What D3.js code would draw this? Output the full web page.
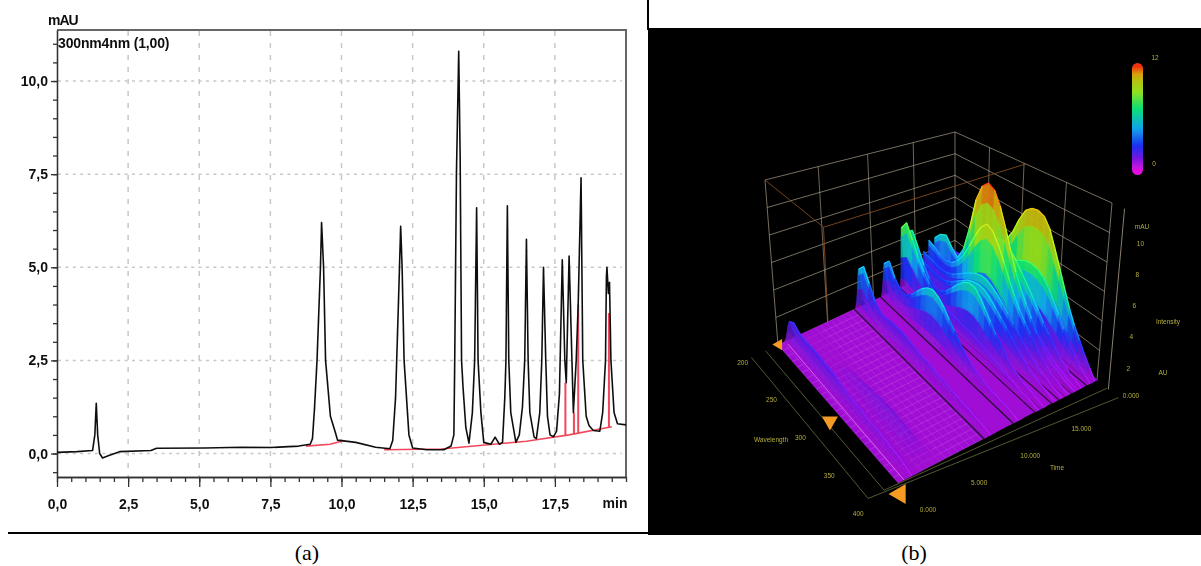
<!DOCTYPE html>
<html>
<head>
<meta charset="utf-8">
<script src="https://cdn.jsdelivr.net/npm/d3@7"></script>
<style>
  html, body { margin: 0; padding: 0; background: #fff; }
  svg { display: block; }
</style>
</head>
<body>
<script>
// (a) chromatogram
var chromTime = [0, 0.7, 1.25, 1.33, 1.38, 1.43, 1.5, 1.6, 1.8, 2.2, 3.3, 3.5, 5.2, 6.5, 7.5, 8.5, 8.9,
  8.98, 9.05, 9.14, 9.26, 9.3, 9.37, 9.44, 9.61, 9.79, 9.86, 10.5, 11.2, 11.7,
  11.8, 11.9, 12.0, 12.08, 12.13, 12.2, 12.37, 12.5, 13.0, 13.6, 13.85,
  13.95, 13.98, 14.04, 14.12, 14.17, 14.22, 14.27, 14.37, 14.48,
  14.6, 14.68, 14.75, 14.8, 14.9, 15.0, 15.25, 15.4, 15.55,
  15.66, 15.74, 15.78, 15.83, 15.88, 15.95, 16.13,
  16.25, 16.36, 16.44, 16.5, 16.56, 16.62, 16.77, 16.85,
  16.97, 17.04, 17.1, 17.18, 17.24, 17.33, 17.45,
  17.56, 17.66, 17.76, 17.85, 17.9, 18.0, 18.1, 18.15,
  18.25, 18.32, 18.42, 18.48, 18.6, 18.7, 18.85, 19.08,
  19.18, 19.28, 19.31, 19.33, 19.38, 19.42, 19.47, 19.58, 19.7, 20];
var chromValue = [0.03, 0.05, 0.08, 0.5, 1.35, 0.5, 0.0, -0.12, -0.06, 0.05, 0.08, 0.14, 0.15, 0.17, 0.16, 0.2, 0.25,
  0.4, 1.2, 2.5, 5.0, 6.2, 5.0, 2.5, 1.0, 0.55, 0.36, 0.3, 0.17, 0.13,
  0.35, 1.5, 4.0, 6.1, 5.0, 2.5, 0.5, 0.15, 0.1, 0.1, 0.2,
  0.5, 2.5, 7.5, 10.8, 8.0, 2.5, 1.8, 0.7, 0.28,
  1.1, 2.5, 6.6, 2.5, 1.1, 0.3, 0.25, 0.44, 0.25,
  0.3, 1.5, 2.5, 6.65, 2.5, 1.1, 0.3,
  0.5, 1.25, 2.5, 5.75, 2.5, 1.1, 0.44, 0.4,
  1.1, 2.5, 5.0, 2.5, 1.0, 0.5, 0.45,
  0.6, 1.6, 5.2, 2.5, 1.9, 5.3, 2.5, 1.1,
  2.5, 4.0, 7.4, 2.5, 1.0, 0.75, 0.62, 0.6,
  1.1, 2.5, 4.7, 5.0, 4.3, 4.6, 2.5, 1.1, 0.8, 0.77];
var baseTime1 = [8.75, 9.6, 10.1];
var baseValue1 = [0.2, 0.25, 0.35];
var baseTime2 = [11.5, 13.5, 16.5, 18.0, 19.5];
var baseValue2 = [0.1, 0.12, 0.33, 0.5, 0.72];
var dropTime = [17.87, 18.17, 18.32, 19.4];
var dropBottom = [0.49, 0.52, 0.55, 0.7];
var dropTop = [1.9, 1.1, 4.0, 3.77];
var yTicks = [0, 2.5, 5, 7.5, 10];
var xTicks = [0, 2.5, 5, 7.5, 10, 12.5, 15, 17.5];

// (b) 3D plot: one intensity list per ridge, over the wavelengths below
var wavelengths = [200, 208, 216, 224, 232, 240, 248, 256, 264, 272, 280, 288, 296, 304, 312, 320, 328, 336, 344, 352, 360, 368, 376, 384, 392, 400];
var ridgeTimes = [19.75, 19.3, 18.4, 18.0, 17.75, 17.1, 16.5, 15.8, 14.7, 14.1, 12.1, 9.3, 3.0, 1.4];
var ridgeWidths = [1, 1, 1, 1, 1, 1, 1, 1, 1, 1, 1.5, 2, 5, 2.5];
var s197 = [1.2, 1.3, 1.5, 1.8, 2.3, 2.9, 3.5, 4.1, 4.7, 5.4, 6.3, 7.6, 8.6, 9.0, 9.1, 8.9, 8.2, 7.0, 5.8, 4.6, 3.5, 2.6, 1.9, 1.2, 0.6, 0];
var s193 = [1.2, 1.3, 1.4, 1.6, 1.9, 2.3, 2.7, 3.1, 3.5, 3.9, 4.2, 4.5, 4.8, 5.1, 5.2, 5.1, 4.8, 4.3, 3.6, 2.9, 2.2, 1.6, 1.1, 0.6, 0.3, 0];
var s184 = [1.4, 1.5, 1.7, 2.1, 2.6, 3.3, 4.0, 4.8, 5.4, 5.9, 6.2, 6.1, 5.8, 5.3, 4.7, 4.1, 3.5, 2.9, 2.3, 1.8, 1.3, 0.9, 0.6, 0.3, 0.2, 0];
var s180 = [1.6, 1.7, 1.8, 2.0, 2.4, 2.9, 3.5, 4.0, 4.4, 4.6, 4.6, 4.4, 4.1, 3.7, 3.3, 2.9, 2.4, 2.0, 1.5, 1.1, 0.8, 0.5, 0.4, 0.2, 0.1, 0];
var s177 = [3.0, 3.7, 4.0, 3.3, 2.8, 3.9, 6.0, 8.6, 10.0, 10.5, 10.2, 9.2, 7.8, 6.3, 5.0, 4.0, 3.2, 2.5, 1.8, 1.2, 0.8, 0.5, 0.4, 0.2, 0.1, 0];
var s171 = [3.0, 2.8, 2.5, 2.4, 2.6, 3.1, 3.9, 5.0, 6.2, 7.2, 7.7, 7.4, 6.6, 5.6, 4.6, 3.7, 3.0, 2.4, 1.9, 1.4, 1.0, 0.7, 0.4, 0.3, 0.1, 0];
var s165 = [2.2, 2.1, 2.0, 1.9, 2.0, 2.2, 2.6, 3.0, 3.4, 3.7, 3.9, 3.9, 3.7, 3.4, 3.0, 2.6, 2.2, 1.8, 1.4, 1.0, 0.8, 0.5, 0.4, 0.2, 0.1, 0];
var s158 = [2.0, 2.0, 1.9, 1.8, 1.8, 1.9, 2.2, 2.6, 3.0, 3.4, 3.6, 3.7, 3.6, 3.3, 2.9, 2.5, 2.1, 1.7, 1.3, 1.0, 0.7, 0.5, 0.3, 0.2, 0.1, 0];
var s147 = [4.4, 5.0, 3.9, 2.8, 2.0, 1.7, 1.8, 2.2, 2.8, 3.4, 3.9, 4.2, 4.2, 3.8, 3.2, 2.6, 2.0, 1.6, 1.1, 0.8, 0.6, 0.4, 0.3, 0.2, 0.1, 0];
var s141 = [5.0, 5.8, 4.7, 3.6, 2.8, 2.2, 1.8, 1.5, 1.4, 1.3, 1.3, 1.2, 1.2, 1.1, 1.0, 0.9, 0.8, 0.7, 0.6, 0.5, 0.4, 0.3, 0.2, 0.2, 0.1, 0];
var s121 = [2.6, 3.2, 2.2, 1.6, 1.6, 2.0, 2.6, 3.2, 3.6, 3.8, 3.6, 3.2, 2.6, 2.1, 1.6, 1.2, 0.9, 0.7, 0.5, 0.4, 0.3, 0.3, 0.2, 0.2, 0.1, 0];
var s093 = [3.0, 3.6, 2.6, 1.6, 1.1, 1.1, 1.2, 1.2, 1.2, 1.1, 1.0, 0.9, 0.8, 0.8, 0.7, 0.6, 0.6, 0.5, 0.4, 0.4, 0.3, 0.3, 0.2, 0.2, 0.1, 0];
var s030 = [0, 0, 0, 0, 0, 0, 0.1, 0.2, 0.4, 0.6, 0.7, 0.8, 0.9, 1.0, 1.0, 1.1, 1.1, 1.1, 1.1, 1.0, 1.0, 0.9, 0.7, 0.3, 0, 0];
var s014 = [1.3, 1.6, 1.3, 1.2, 1.2, 1.2, 1.2, 1.1, 1.1, 1.0, 0.9, 0.8, 0.7, 0.6, 0.6, 0.6, 0.5, 0.5, 0.5, 0.4, 0.4, 0.3, 0.3, 0.2, 0.1, 0];
var ridgeSpectra = [s197, s193, s184, s180, s177, s171, s165, s158, s147, s141, s121, s093, s030, s014];
// slices across one ridge, back to front: time offset and share of the ridge height
var sliceOffset = [0.28, 0.2, 0.12, 0.06, 0, -0.06, -0.12, -0.2, -0.28];
var sliceShare = [0, 0.15, 0.5, 0.85, 1, 0.85, 0.5, 0.15, 0];
var colorValues = [0, 0.8, 1.8, 3, 4.6, 6, 8, 9.2, 10.4];
var colorNames = ["#a010d0", "#6a18e0", "#1a30f0", "#10a8e8", "#10e070", "#90e020", "#b8c010", "#d8a010", "#d82810"];
var wallLevels = [2, 4, 6, 8, 10, 12];
var wallTimes = [5.6, 10.8, 15.6];
var wallWaves = [244, 288, 342];
var waveTicks = [200, 250, 300, 350, 400];
var timeTicks = [0, 5, 10, 15];
var intensityTicks = [2, 4, 6, 8, 10];
var markerWaves = [200, 285, 400];

var svg = d3.select("body").append("svg")
    .attr("width", 1201)
    .attr("height", 566);

var defs = svg.append("defs");
defs.append("filter").attr("id", "soft")
    .attr("x", "-5%").attr("y", "-5%").attr("width", "110%").attr("height", "110%")
  .append("feGaussianBlur").attr("stdDeviation", 0.7);
defs.append("filter").attr("id", "soft3d")
    .attr("x", "-5%").attr("y", "-5%").attr("width", "110%").attr("height", "110%")
  .append("feGaussianBlur").attr("stdDeviation", 0.7);

svg.append("rect").attr("width", 1201).attr("height", 566).attr("fill", "#fff");

// ---------- panel (a) ----------
var xScale = d3.scaleLinear().domain([0, 20]).range([57, 626]);
var yScale = d3.scaleLinear().domain([-0.63, 11.37]).range([477, 30]);
var comma = function(d) { return d3.format(".1f")(d).replace(".", ","); };

var panelA = svg.append("g").attr("filter", "url(#soft)");

// dashed grid
panelA.selectAll(".vgrid").data(xTicks.slice(1)).enter().append("line")
    .attr("x1", function(d) { return xScale(d); })
    .attr("x2", function(d) { return xScale(d); })
    .attr("y1", 31).attr("y2", 477)
    .attr("stroke", "#c8c8c8").attr("stroke-width", 1.5).attr("stroke-dasharray", "5 7");
panelA.selectAll(".hgrid").data(yTicks).enter().append("line")
    .attr("x1", 58).attr("x2", 622)
    .attr("y1", function(d) { return yScale(d); })
    .attr("y2", function(d) { return yScale(d); })
    .attr("stroke", "#c8c8c8").attr("stroke-width", 1.5).attr("stroke-dasharray", "3 4.4");

// frame
panelA.append("path")
    .attr("d", "M57,30H626V477")
    .attr("fill", "none").attr("stroke", "#666").attr("stroke-width", 2);

// axes, minor ticks every 0,5
var xAxis = d3.axisBottom(xScale).tickValues(xTicks).tickFormat(comma).tickSize(10).tickSizeOuter(0);
var xMinor = d3.axisBottom(xScale).tickValues(d3.range(0, 20.01, 0.5)).tickFormat("").tickSize(5).tickSizeOuter(0);
var yAxis = d3.axisLeft(yScale).tickValues(yTicks).tickFormat(comma).tickSize(6).tickSizeOuter(0);
var yMinor = d3.axisLeft(yScale).tickValues(d3.range(-0.5, 11.01, 0.5)).tickFormat("").tickSize(4).tickSizeOuter(0);

var axisFont = "'Liberation Sans', Arial, sans-serif";
panelA.append("g").attr("transform", "translate(0,477)").call(xMinor);
panelA.append("g").attr("transform", "translate(0,477)").call(xAxis)
  .selectAll("text").attr("dy", "1.35em");
panelA.append("g").attr("transform", "translate(57,0)").call(yMinor);
panelA.append("g").attr("transform", "translate(57,0)").call(yAxis);
panelA.selectAll(".tick text")
    .attr("font-family", axisFont).attr("font-size", 14).attr("font-weight", "bold").attr("fill", "#111");
panelA.selectAll(".domain, .tick line").attr("stroke", "#333").attr("stroke-width", 1.3);

panelA.append("text").attr("x", 615).attr("y", 508).attr("text-anchor", "middle")
    .attr("font-family", axisFont).attr("font-size", 14).attr("font-weight", "bold").attr("fill", "#111")
    .text("min");
panelA.append("text").attr("x", 48).attr("y", 25)
    .attr("font-family", axisFont).attr("font-size", 14).attr("font-weight", "bold").attr("fill", "#111")
    .style("letter-spacing", "-1px").text("mAU");
panelA.append("text").attr("x", 58).attr("y", 48)
    .attr("font-family", axisFont).attr("font-size", 14).attr("font-weight", "bold").attr("fill", "#111")
    .style("letter-spacing", "-0.15px").text("300nm4nm (1,00)");

// integration baselines and drop lines
var line = d3.line()
    .x(function(d) { return xScale(d[0]); })
    .y(function(d) { return yScale(d[1]); });
panelA.append("path").datum(d3.zip(baseTime1, baseValue1)).attr("d", line)
    .attr("fill", "none").attr("stroke", "#f0475a").attr("stroke-width", 1.6);
panelA.append("path").datum(d3.zip(baseTime2, baseValue2)).attr("d", line)
    .attr("fill", "none").attr("stroke", "#f0475a").attr("stroke-width", 1.6);
panelA.selectAll(".drop").data(dropTime).enter().append("line")
    .attr("x1", function(d) { return xScale(d); })
    .attr("x2", function(d) { return xScale(d); })
    .attr("y1", function(d, i) { return yScale(dropBottom[i]); })
    .attr("y2", function(d, i) { return yScale(dropTop[i]); })
    .attr("stroke", "#f0475a").attr("stroke-width", 2);

// the trace
panelA.append("path").datum(d3.zip(chromTime, chromValue)).attr("d", line)
    .attr("fill", "none").attr("stroke", "#111").attr("stroke-width", 1.6).attr("stroke-linejoin", "round");

// rule under panel (a), and the stub above panel (b)
svg.append("line").attr("x1", 8).attr("x2", 648).attr("y1", 533).attr("y2", 533)
    .attr("stroke", "#000").attr("stroke-width", 2);
svg.append("line").attr("x1", 648).attr("x2", 648).attr("y1", 0).attr("y2", 30)
    .attr("stroke", "#000").attr("stroke-width", 2);

// ---------- panel (b) ----------
svg.append("rect").attr("x", 648).attr("y", 28).attr("width", 553).attr("height", 507).attr("fill", "#000");

var tScale = d3.scaleLinear().domain([0, 20]).range([0, 1]);
var wScale = d3.scaleLinear().domain([200, 400]).range([0, 1]);
var iScale = d3.scaleLinear().domain([0, 12]).range([0, 1]);
var color = d3.scaleLinear().domain(colorValues).range(colorNames).clamp(true);

// box corners on screen, the box is squeezed by perspective so no plain affine map
var floorX = d3.scaleLinear().range([778, 898]), floorY = d3.scaleLinear().range([345, 483]);
var farFloorX = d3.scaleLinear().range([955, 1097]), farFloorY = d3.scaleLinear().range([262, 380]);
var topX = d3.scaleLinear().range([765, 895]), topY = d3.scaleLinear().range([180, 285]);
var farTopX = d3.scaleLinear().range([955, 1112]), farTopY = d3.scaleLinear().range([132, 203]);

function project(time, wave, intensity) {
    var u = tScale(time), v = wScale(wave), h = iScale(intensity);
    var fx = floorX(v) + u * (farFloorX(v) - floorX(v));
    var fy = floorY(v) + u * (farFloorY(v) - floorY(v));
    var tx = topX(v) + u * (farTopX(v) - topX(v));
    var ty = topY(v) + u * (farTopY(v) - topY(v));
    return [fx + h * (tx - fx), fy + h * (ty - fy)];
}

var panelB = svg.append("g").attr("filter", "url(#soft3d)");
var path3d = d3.line();

function wire(parent, pts, stroke, width, opacity) {
    parent.append("path").attr("d", path3d(pts))
        .attr("fill", "none").attr("stroke", stroke)
        .attr("stroke-width", width).attr("stroke-opacity", opacity);
}

// back walls
var wallColor = "#b5a990";
wallLevels.forEach(function(level) {
    wire(panelB, [project(0, 200, level), project(20, 200, level), project(20, 400, level)], wallColor, 1, 0.65);
});
wire(panelB, [project(0, 200, 0), project(0, 200, 12)], wallColor, 1, 0.65);
wire(panelB, [project(20, 200, 0), project(20, 200, 12)], wallColor, 1, 0.65);
wire(panelB, [project(20, 400, 0), project(20, 400, 12)], wallColor, 1, 0.65);
wallTimes.forEach(function(t) {
    wire(panelB, [project(t, 200, 0), project(t, 200, 12)], wallColor, 1, 0.6);
});
wallWaves.forEach(function(w) {
    wire(panelB, [project(20, w, 0), project(20, w, 12)], wallColor, 1, 0.6);
});
// orange selection plane
wire(panelB, [project(0, 200, 12), project(0, 290, 12), project(20, 290, 12)], "#8a4f22", 1, 0.85);
wire(panelB, [project(0, 290, 12), project(0, 290, 0)], "#8a4f22", 1, 0.85);

// floor
var floorCorners = [project(0, 200, 0), project(20, 200, 0), project(20, 400, 0), project(0, 400, 0)];
panelB.append("path").attr("d", path3d(floorCorners) + "Z").attr("fill", "#a010d4");
wavelengths.forEach(function(w) {
    wire(panelB, [project(0, w, 0), project(9, w, 0)], "#e080f0", 0.6, 0.4);
});
d3.range(0, 9.01, 0.6).forEach(function(t) {
    wire(panelB, [project(t, 200, 0), project(t, 400, 0)], "#e080f0", 0.5, 0.3);
});

// ridges, far ones first
ridgeTimes.forEach(function(time, r) {
    var spectrum = ridgeSpectra[r];
    var spread = ridgeWidths[r];
    var ridge = panelB.append("g");
    // the dark gap on the floor beside the ridge
    if (time > 5) {
        wire(ridge, [project(time - 0.34 * spread, 200, 0), project(time - 0.34 * spread, 400, 0)], "#180520", 1.6, 0.8);
    }
    for (var s = 0; s < sliceOffset.length - 1; s++) {
        for (var k = 0; k < wavelengths.length - 1; k++) {
            var a0 = spectrum[k] * sliceShare[s], b0 = spectrum[k + 1] * sliceShare[s];
            var a1 = spectrum[k] * sliceShare[s + 1], b1 = spectrum[k + 1] * sliceShare[s + 1];
            var fill = color((a0 + b0 + a1 + b1) / 4);
            ridge.append("path")
                .attr("d", path3d([
                    project(time + sliceOffset[s] * spread, wavelengths[k], a0),
                    project(time + sliceOffset[s] * spread, wavelengths[k + 1], b0),
                    project(time + sliceOffset[s + 1] * spread, wavelengths[k + 1], b1),
                    project(time + sliceOffset[s + 1] * spread, wavelengths[k], a1)
                ]) + "Z")
                .attr("fill", fill).attr("fill-opacity", time == 3 ? 0.35 : 0.8)
                .attr("stroke", fill).attr("stroke-width", 0.4).attr("stroke-opacity", time == 3 ? 0.3 : 1);
        }
    }
    // bright crest
    if (time != 3) {
        for (var j = 0; j < wavelengths.length - 1; j++) {
            wire(ridge, [project(time, wavelengths[j], spectrum[j]), project(time, wavelengths[j + 1], spectrum[j + 1])],
                d3.color(color((spectrum[j] + spectrum[j + 1]) / 2)).brighter(0.5).formatHex(), 1.3, 0.95);
        }
    }
});
// the pale line along the first ridge
wire(panelB, [project(0.6, 208, 0.3), project(0.6, 400, 0)], "#e070f0", 1, 0.8);

// floor frames
var frameColor = "#5c6238";
wire(panelB, [project(-1.4, 200, 0), project(-1.4, 400, 0), project(20, 414, 0)], frameColor, 1, 0.9);
wire(panelB, [project(-3, 200, 0), project(-3, 400, 0), project(20, 430, 0)], frameColor, 1, 0.9);
wire(panelB, [project(20, 416, 0), project(20, 416, 12)], wallColor, 1, 0.75);

// orange markers on the wavelength axis
panelB.selectAll(".marker").data(markerWaves).enter().append("path")
    .attr("d", d3.symbol().type(d3.symbolTriangle).size(function(d, i) { return [55, 110, 170][i]; }))
    .attr("transform", function(d, i) {
        var p = project(i == 2 ? 0.2 : 0.1, d, 0);
        return "translate(" + p[0] + "," + (p[1] + [0, 18, 12][i]) + ") rotate(" + [-90, 180, 30][i] + ")";
    })
    .attr("fill", "#f59a23");

// axis labels, very small in the source
var labelColor = "#b4ad3c";
var labelFont = "'Liberation Sans', Arial, sans-serif";
function small(x, y, label, size) {
    panelB.append("text").attr("x", x).attr("y", y).attr("text-anchor", "middle")
        .attr("font-family", labelFont).attr("font-size", size || 6.5).attr("fill", labelColor).text(label);
}
waveTicks.forEach(function(w) {
    var p = project(-4, w, 0);
    small(p[0], p[1] + 3 + (w - 200) / 200 * 9, w);
});
timeTicks.forEach(function(t) {
    var p = project(t, 450, 0);
    small(p[0], p[1] - 6, d3.format(".3f")(t));
});
intensityTicks.forEach(function(i) {
    var p = project(20, 440, i);
    small(p[0], p[1] - 2, i);
});
small(1131, 398, "0.000");
small(1142, 229, "mAU");
small(1168, 324, "Intensity");
small(1163, 375, "AU");
small(1057, 470, "Time");
small(771, 442, "Wavelength");

// colour bar
var barOffsets = [0.04, 0.16, 0.26, 0.42, 0.6, 0.74, 0.84, 0.9, 0.97];
var barGradient = defs.append("linearGradient").attr("id", "bar")
    .attr("x1", 0).attr("x2", 0).attr("y1", 1).attr("y2", 0);
barGradient.selectAll("stop").data(barOffsets).enter().append("stop")
    .attr("offset", function(d) { return d; })
    .attr("stop-color", function(d, i) { return i == 0 ? "#e010e0" : (i == 8 ? "#f03010" : colorNames[i]); });
panelB.append("rect").attr("x", 1132).attr("y", 63).attr("width", 11).attr("height", 112).attr("rx", 5.5)
    .attr("fill", "url(#bar)");
small(1155, 60, "12");
small(1154, 166, "0");

// panel letters
var captionFont = "'Liberation Serif', 'Times New Roman', serif";
svg.append("text").attr("x", 307).attr("y", 560).attr("text-anchor", "middle")
    .attr("font-family", captionFont).attr("font-size", 22).text("(a)");
svg.append("text").attr("x", 914).attr("y", 560).attr("text-anchor", "middle")
    .attr("font-family", captionFont).attr("font-size", 22).text("(b)");
</script>
</body>
</html>
